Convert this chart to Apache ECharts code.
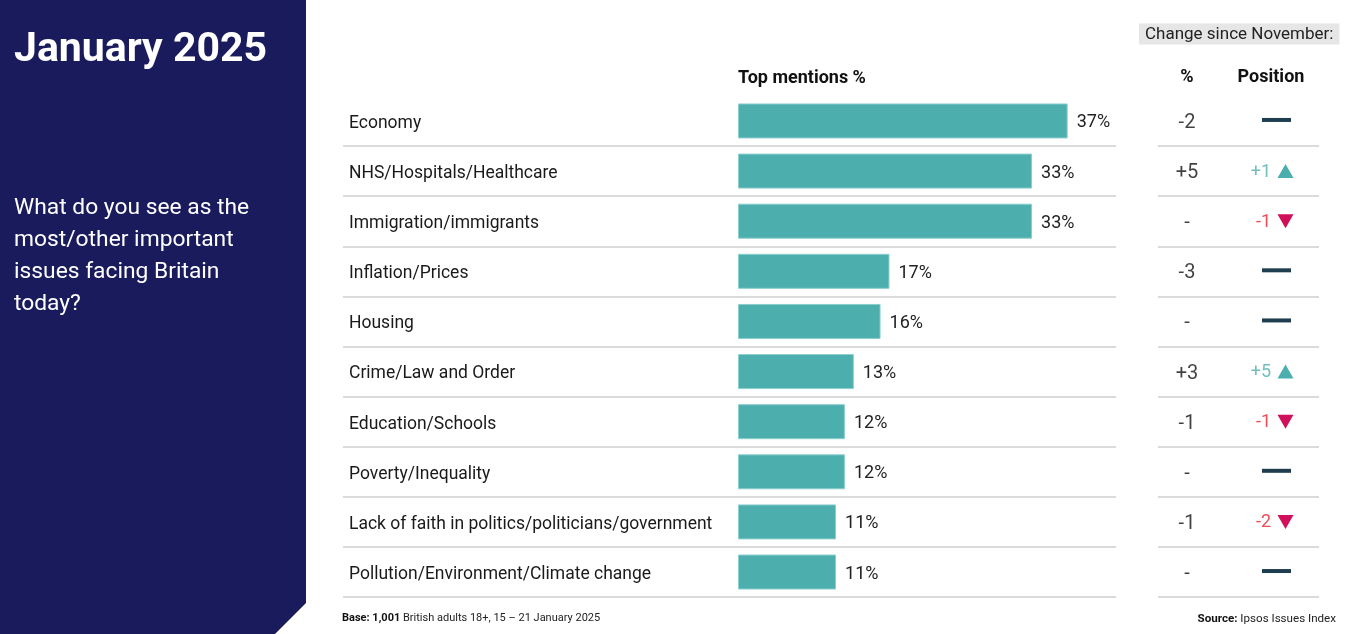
<!DOCTYPE html>
<html>
<head>
<meta charset="utf-8">
<script src="https://cdn.jsdelivr.net/npm/echarts@6/dist/echarts.min.js"></script>
<style>
html,body{margin:0;padding:0;background:#fff;}
#chart{width:1347px;height:634px;}
</style>
</head>
<body>
<div id="chart"></div>
<script>
const issues = ['Economy','NHS/Hospitals/Healthcare','Immigration/immigrants','Inflation/Prices','Housing','Crime/Law and Order','Education/Schools','Poverty/Inequality','Lack of faith in politics/politicians/government','Pollution/Environment/Climate change'];
const topMentions = [37,33,33,17,16,13,12,12,11,11];
const pctChange = ['-2','+5','-','-3','-','+3','-1','-','-1','-'];
const posChange = [0,1,-1,0,0,5,-1,0,-2,0];
const columns = ['%','Position'];

const FONT = 'Roboto';
const TEAL = '#4daeae';
const UPC = '#4daeae', DOWNTXT = '#e8202a', DOWNTRI = '#d0105a', FLAT = '#1e3d4f';
const GT = 95.9, GH = 501.2;
const lineStyle = {color:'#cfcfcf', width:1.6};

const chart = echarts.init(document.getElementById('chart'), null, {renderer:'canvas'});

const posTextData = [];
const posShapeData = [];
issues.forEach((d,i)=>{
  const v = posChange[i];
  if (v !== 0) {
    posTextData.push({value:['Position', d], label:{formatter:(v>0?'+':'-')+Math.abs(v), color: v>0?UPC:DOWNTXT}});
    posShapeData.push({value:['Position', d], symbol:'triangle', symbolSize:[16,14], symbolOffset:[14.5,0], symbolRotate: v>0?0:180, itemStyle:{color: v>0?UPC:DOWNTRI, opacity:1}});
  } else {
    posShapeData.push({value:['Position', d], symbol:'rect', symbolSize:[29,4], symbolOffset:[5.5,-1], itemStyle:{color:FLAT, opacity:1}});
  }
});

const option = {
  animation:false,
  textStyle:{fontFamily:FONT},
  graphic:[{
    type:'polygon', silent:true, z:-1,
    shape:{points:[[0,0],[306,0],[306,603],[275,634],[0,634]]},
    style:{fill:'#1a1b5c'}
  }],
  title:[
    {text:'January 2025', left:14, top:30, padding:0, textStyle:{fontFamily:FONT, fontSize:41, fontWeight:'bold', color:'#fff'}},
    {text:'What do you see as the\nmost/other important\nissues facing Britain\ntoday?', left:14, top:192, padding:0, textStyle:{fontFamily:FONT, fontSize:22.8, lineHeight:32, fontWeight:'normal', color:'#fff'}},
    {text:'Top mentions %', left:738, top:69, padding:0, textStyle:{fontFamily:FONT, fontSize:18, fontWeight:'bold', color:'#111'}},
    {text:'Change since November:', left:1139, top:24, padding:[3,6,1,6], backgroundColor:'#e6e6e6', textStyle:{fontFamily:FONT, fontSize:17, fontWeight:'normal', color:'#222', lineHeight:16}},
    {text:'{b|Base: 1,001} British adults 18+, 15 – 21 January 2025', left:342, top:613, padding:0,
      textStyle:{fontFamily:FONT, fontSize:11, fontWeight:'normal', color:'#222', rich:{b:{fontFamily:FONT, fontSize:11, fontWeight:'bold', color:'#111'}}}},
    {text:'{b|Source:} Ipsos Issues Index', right:11, top:613, padding:0,
      textStyle:{fontFamily:FONT, fontSize:11.6, fontWeight:'normal', color:'#222', rich:{b:{fontFamily:FONT, fontSize:11.6, fontWeight:'bold', color:'#111'}}}}
  ],
  grid:[
    {left:343, top:GT, width:773, height:GH},
    {left:738, top:GT, width:356.4, height:GH},
    {left:1158, top:GT, width:161, height:GH},
    {left:1145, top:GT, width:168, height:GH}
  ],
  xAxis:[
    {gridIndex:0, type:'value', show:false},
    {gridIndex:1, type:'value', min:0, max:40, show:false},
    {gridIndex:2, type:'value', show:false},
    {gridIndex:3, type:'category', data:columns, position:'top', boundaryGap:true,
      axisLine:{show:false}, axisTick:{show:false}, splitLine:{show:false},
      axisLabel:{interval:0, hideOverlap:false, margin:9, fontFamily:FONT, fontSize:18, fontWeight:'bold', color:'#111'}}
  ],
  yAxis:[
    {gridIndex:0, type:'category', data:issues, inverse:true,
      axisLine:{show:false}, axisTick:{show:false},
      axisLabel:{inside:true, margin:6, interval:0, formatter:v=>'{a|'+v+'}',
        rich:{a:{padding:[5,0,0,0], fontFamily:FONT, fontSize:17.5, color:'#1a1a1a'}},
        fontFamily:FONT, fontSize:17.5, color:'#1a1a1a'},
      splitLine:{show:true, showMinLine:false, lineStyle:lineStyle}},
    {gridIndex:1, type:'category', data:issues, inverse:true, show:false},
    {gridIndex:2, type:'category', data:issues, inverse:true,
      axisLine:{show:false}, axisTick:{show:false}, axisLabel:{show:false},
      splitLine:{show:true, showMinLine:false, lineStyle:lineStyle}},
    {gridIndex:3, type:'category', data:issues, inverse:true, show:false}
  ],
  series:[
    {type:'bar', xAxisIndex:1, yAxisIndex:1, data:topMentions, barWidth:35,
      itemStyle:{color:TEAL, borderColor:'#8ccfcd', borderWidth:1},
      label:{show:true, position:'right', distance:9, offset:[0,2], formatter:'{c}%', fontFamily:FONT, fontSize:18, color:'#222'}},
    {type:'scatter', xAxisIndex:3, yAxisIndex:3, symbolSize:1, itemStyle:{color:'rgba(0,0,0,0)'},
      data:issues.map((d,i)=>({value:['%', d], label:{formatter:pctChange[i]}})),
      label:{show:true, position:'inside', offset:[0,2], fontFamily:FONT, fontSize:20, color:'#111'}},
    {type:'scatter', xAxisIndex:3, yAxisIndex:3, symbolSize:1, itemStyle:{color:'rgba(0,0,0,0)'},
      data:posTextData,
      label:{show:true, position:'inside', align:'right', offset:[0,1], fontFamily:FONT, fontSize:18}},
    {type:'scatter', xAxisIndex:3, yAxisIndex:3, data:posShapeData}
  ]
};
chart.setOption(option);
</script>
</body>
</html>
